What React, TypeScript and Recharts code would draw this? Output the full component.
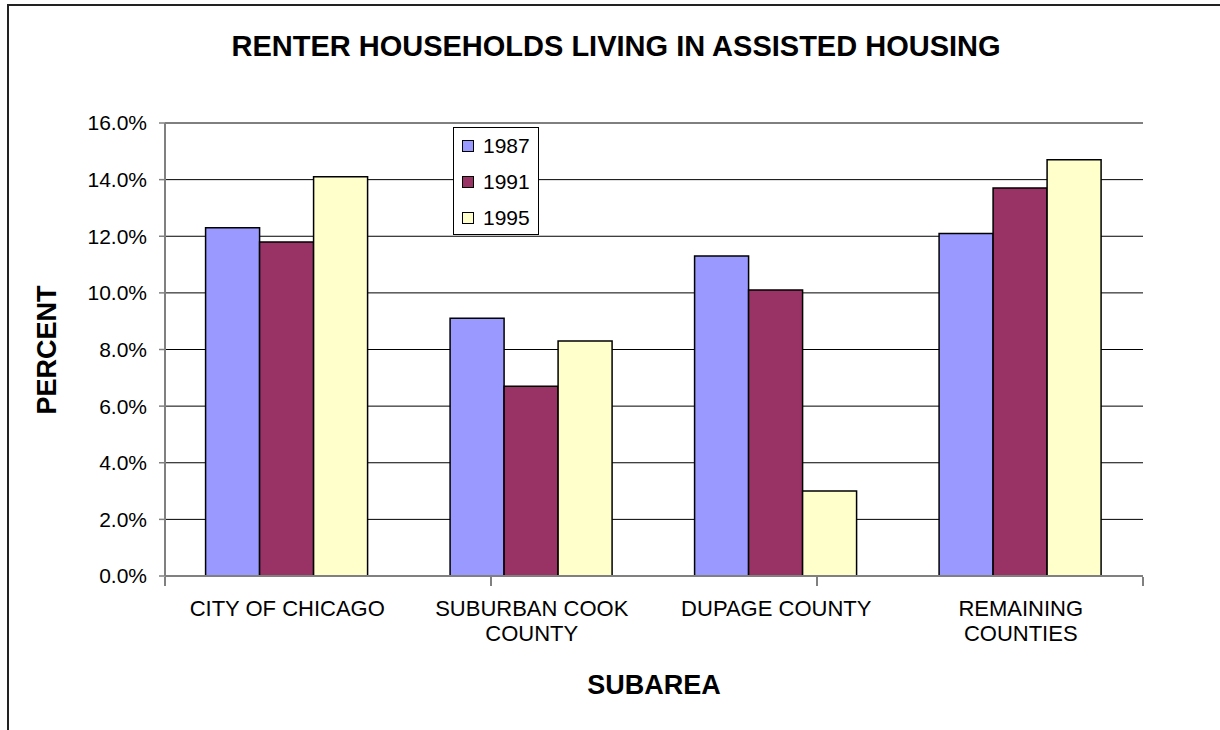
import { Bar, BarChart, CartesianGrid, XAxis, YAxis } from "recharts";

// subareas (line breaks as on the original axis)
const subareas = [
  "CITY OF CHICAGO",
  "SUBURBAN COOK\nCOUNTY",
  "DUPAGE COUNTY",
  "REMAINING\nCOUNTIES",
];

// percent of renter households in assisted housing
const y1987 = [12.3, 9.1, 11.3, 12.1];
const y1991 = [11.8, 6.7, 10.1, 13.7];
const y1995 = [14.1, 8.3, 3.0, 14.7];

const yTicks = [0, 2, 4, 6, 8, 10, 12, 14, 16];
const edgeTicks = [0, 1, 2, 3, 4];

const years = [
  { key: "y1987", name: "1987", color: "#9999FF" },
  { key: "y1991", name: "1991", color: "#993366" },
  { key: "y1995", name: "1995", color: "#FFFFCC" },
];

const data = subareas.map((area, i) => ({
  area,
  y1987: y1987[i],
  y1991: y1991[i],
  y1995: y1995[i],
}));

const FONT = '"Liberation Sans", Arial, sans-serif';

const AreaTick = (props: any) => {
  const { x, y, payload } = props;
  const lines = String(payload.value).split("\n");
  return (
    <text x={x} y={y} textAnchor="middle" fontFamily={FONT} fontSize={22} fill="#000">
      {lines.map((line, i) => (
        <tspan key={i} x={x} dy={i === 0 ? 40 : 25}>
          {line}
        </tspan>
      ))}
    </text>
  );
};

const YearLegend = () => (
  <div
    style={{
      position: "absolute",
      left: 453,
      top: 127,
      border: "1px solid #000",
      background: "#fff",
      width: 84,
      height: 106,
      fontSize: 21,
    }}
  >
    {years.map((s) => (
      <div
        key={s.key}
        style={{ height: 36, display: "flex", alignItems: "center", paddingLeft: 8 }}
      >
        <span
          style={{
            width: 10,
            height: 10,
            border: "1px solid #000",
            background: s.color,
            marginRight: 9,
          }}
        />
        <span>{s.name}</span>
      </div>
    ))}
  </div>
);

export default function App() {
  return (
    <div
      style={{
        position: "absolute",
        left: 0,
        top: 0,
        width: 1220,
        height: 730,
        background: "#fff",
        overflow: "hidden",
        fontFamily: FONT,
      }}
    >
      {/* chart frame */}
      <div
        style={{
          position: "absolute",
          left: 7,
          top: 4,
          width: 1300,
          height: 800,
          borderLeft: "2px solid #222",
          borderTop: "2px solid #222",
        }}
      />
      <div
        style={{
          position: "absolute",
          left: 0,
          top: 32,
          width: 1232,
          textAlign: "center",
          fontSize: 29,
          lineHeight: "29px",
          fontWeight: "bold",
        }}
      >
        RENTER HOUSEHOLDS LIVING IN ASSISTED HOUSING
      </div>
      <div
        style={{
          position: "absolute",
          left: 47,
          top: 350,
          transform: "translate(-50%, -50%) rotate(-90deg)",
          fontSize: 27,
          lineHeight: "27px",
          fontWeight: "bold",
          whiteSpace: "nowrap",
        }}
      >
        PERCENT
      </div>
      <div
        style={{
          position: "absolute",
          left: 654,
          top: 672,
          transform: "translateX(-50%)",
          fontSize: 27,
          lineHeight: "27px",
          fontWeight: "bold",
        }}
      >
        SUBAREA
      </div>
      <div style={{ position: "absolute", left: 0, top: 0 }}>
        <BarChart
          width={1220}
          height={730}
          data={data}
          margin={{ top: 123, right: 77, bottom: 93, left: 65 }}
          barCategoryGap="16.6%"
          barGap={0}
        >
          <CartesianGrid vertical={false} stroke="#000" strokeWidth={1} />
          <XAxis
            dataKey="area"
            interval={0}
            tick={<AreaTick />}
            tickLine={false}
            tickSize={0}
            tickMargin={0}
            axisLine={{ stroke: "#808080", strokeWidth: 2 }}
            height={1}
          />
          <XAxis
            xAxisId="edges"
            type="number"
            domain={[0, 4]}
            ticks={edgeTicks}
            interval={0}
            tickFormatter={() => ""}
            tickSize={9}
            axisLine={false}
            tickLine={{ stroke: "#808080", strokeWidth: 2 }}
            height={60}
          />
          <YAxis
            domain={[0, 16]}
            ticks={yTicks}
            interval={0}
            width={100}
            tickFormatter={(v: number) => v.toFixed(1) + "%"}
            tick={{ fontFamily: FONT, fontSize: 21, fill: "#000" }}
            tickSize={6}
            tickMargin={12}
            axisLine={{ stroke: "#808080", strokeWidth: 2 }}
            tickLine={{ stroke: "#808080", strokeWidth: 1.5 }}
          />
          <YAxis
            yAxisId="frame"
            orientation="right"
            domain={[0, 16]}
            width={0}
            tick={false}
            tickLine={false}
            axisLine={{ stroke: "#808080", strokeWidth: 2 }}
          />
          {years.map((s) => (
            <Bar
              key={s.key}
              dataKey={s.key}
              name={s.name}
              fill={s.color}
              stroke="#000"
              strokeWidth={1.5}
              isAnimationActive={false}
            />
          ))}
        </BarChart>
      </div>
      <YearLegend />
    </div>
  );
}
